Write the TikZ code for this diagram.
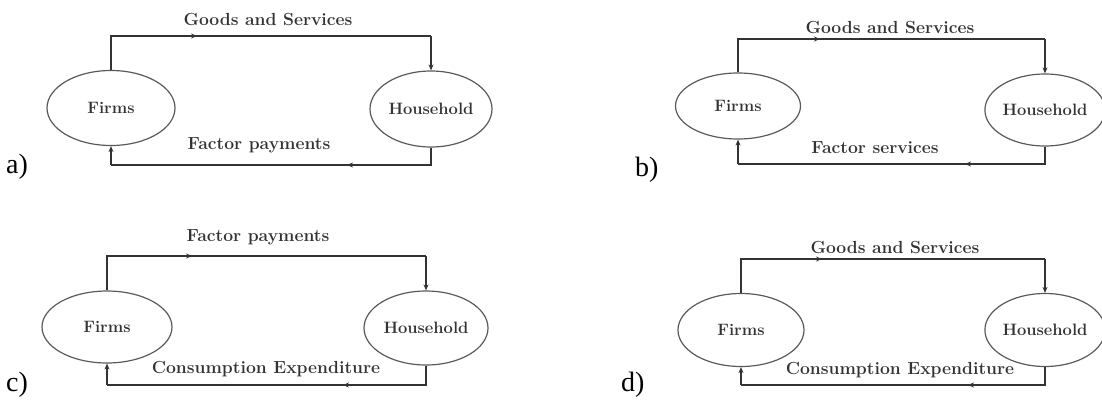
\documentclass[tikz,border=0pt]{standalone}
\usepackage{fontspec}
\newfontfamily\tnr{Liberation Serif}
\usetikzlibrary{shapes.geometric,arrows.meta}
\definecolor{ink}{HTML}{333333}
\definecolor{eline}{HTML}{5A5A5A}
\tikzset{
  sector/.style={ellipse,draw=eline,line width=1.2pt,inner sep=0pt,text=ink,font=\fontsize{16.5}{19}\selectfont\bfseries},
  flowline/.style={draw=ink,line width=1.5pt},
  flowtip/.style={draw=ink,line width=1.5pt,-{Stealth[length=6pt,width=5pt]}},
  flowlabel/.style={text=ink,font=\fontsize{17.5}{20}\selectfont\bfseries,inner sep=0pt},
  optlabel/.style={text=black,font=\tnr\fontsize{28}{32}\selectfont,inner sep=0pt,anchor=west}
}
\begin{document}
\begin{tikzpicture}[x=1pt,y=-1pt]
\useasboundingbox (0,0) rectangle (1102,399);
% ---------- a ----------
\node[sector,minimum width=128pt,minimum height=75pt] (Fa) at (111,108) {Firms};
\node[sector,minimum width=122pt,minimum height=76pt] (Ha) at (431,109) {Household};
\coordinate (a1) at (Fa.north |- 0,36);
\coordinate (a2) at (Ha.north |- 0,36);
\coordinate (a3) at (Ha.south |- 0,165);
\coordinate (a4) at (Fa.south |- 0,165);
\coordinate (am1) at (197,36);
\coordinate (am2) at (347,165);
\draw[flowline] (Fa.north) -- (a1) -- (a2);
\draw[flowtip] (a2) -- (Ha.north);
\draw[flowtip] (a1) -- (am1);
\draw[flowline] (Ha.south) -- (a3) -- (a4);
\draw[flowtip] (a4) -- (Fa.south);
\draw[flowtip] (a3) -- (am2);
\node[flowlabel] (la1) at (268,19) {Goods and Services};
\node[flowlabel] (la2) at (259,145) {Factor payments};
\node[optlabel] (oa) at (6,167) {a)};
% ---------- b ----------
\node[sector,minimum width=125pt,minimum height=66pt] (Fb) at (738,106) {Firms};
\node[sector,minimum width=118pt,minimum height=72pt] (Hb) at (1045,110) {Household};
\coordinate (b1) at (Fb.north |- 0,39);
\coordinate (b2) at (Hb.north |- 0,39);
\coordinate (b3) at (Hb.south |- 0,164);
\coordinate (b4) at (Fb.south |- 0,164);
\coordinate (bm1) at (820,39);
\coordinate (bm2) at (965,164);
\draw[flowline] (Fb.north) -- (b1) -- (b2);
\draw[flowtip] (b2) -- (Hb.north);
\draw[flowtip] (b1) -- (bm1);
\draw[flowline] (Hb.south) -- (b3) -- (b4);
\draw[flowtip] (b4) -- (Fb.south);
\draw[flowtip] (b3) -- (bm2);
\node[flowlabel] (lb1) at (890,27) {Goods and Services};
\node[flowlabel] (lb2) at (875,148) {Factor services};
\node[optlabel] (ob) at (635,170) {b)};
% ---------- c ----------
\node[sector,minimum width=130pt,minimum height=72pt] (Fc) at (107,327) {Firms};
\node[sector,minimum width=124pt,minimum height=74pt] (Hc) at (426,328) {Household};
\coordinate (c1) at (Fc.north |- 0,256);
\coordinate (c2) at (Hc.north |- 0,256);
\coordinate (c3) at (Hc.south |- 0,385);
\coordinate (c4) at (Fc.south |- 0,385);
\coordinate (cm1) at (192,256);
\coordinate (cm2) at (343,385);
\draw[flowline] (Fc.north) -- (c1) -- (c2);
\draw[flowtip] (c2) -- (Hc.north);
\draw[flowtip] (c1) -- (cm1);
\draw[flowline] (Hc.south) -- (c3) -- (c4);
\draw[flowtip] (c4) -- (Fc.south);
\draw[flowtip] (c3) -- (cm2);
\node[flowlabel] (lc1) at (258,237) {Factor payments};
\node[flowlabel] (lc2) at (266,369) {Consumption Expenditure};
\node[optlabel] (oc) at (6,385) {c)};
% ---------- d ----------
\node[sector,minimum width=126pt,minimum height=73pt] (Fd) at (741,330) {Firms};
\node[sector,minimum width=116pt,minimum height=73pt] (Hd) at (1045,330) {Household};
\coordinate (d1) at (Fd.north |- 0,259);
\coordinate (d2) at (Hd.north |- 0,259);
\coordinate (d3) at (Hd.south |- 0,385);
\coordinate (d4) at (Fd.south |- 0,385);
\coordinate (dm1) at (822,259);
\coordinate (dm2) at (968,385);
\draw[flowline] (Fd.north) -- (d1) -- (d2);
\draw[flowtip] (d2) -- (Hd.north);
\draw[flowtip] (d1) -- (dm1);
\draw[flowline] (Hd.south) -- (d3) -- (d4);
\draw[flowtip] (d4) -- (Fd.south);
\draw[flowtip] (d3) -- (dm2);
\node[flowlabel] (ld1) at (895,247) {Goods and Services};
\node[flowlabel] (ld2) at (900,370) {Consumption Expenditure};
\node[optlabel] (od) at (621,385) {d)};
\end{tikzpicture}
\end{document}
